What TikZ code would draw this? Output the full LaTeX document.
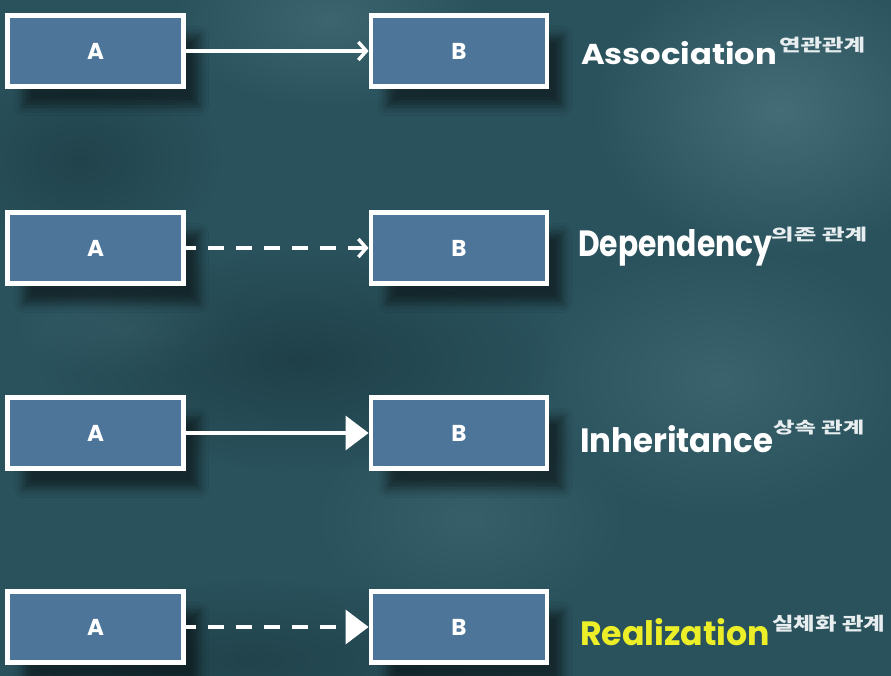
\documentclass[tikz,border=0pt]{standalone}
\usepackage{fontspec}
\usepackage{graphicx}
\setmainfont{Poppins}
\newfontfamily\kr{Noto Sans CJK KR}
\usetikzlibrary{arrows.meta,shadows.blur,fadings}
\tikzfading[name=softblob, inner color=transparent!0, outer color=transparent!100]
\definecolor{bg}{RGB}{42,82,92}
\definecolor{bglight}{RGB}{78,120,130}
\definecolor{bgdark}{RGB}{24,52,60}
\definecolor{boxblue}{RGB}{76,117,153}
\definecolor{realyellow}{RGB}{236,238,40}
\definecolor{krgray}{RGB}{232,238,240}
\begin{document}
\begin{tikzpicture}[x=1pt,y=-1pt,
  cls/.style={draw=white, line width=4.8pt, fill=boxblue, minimum width=176pt,
    minimum height=71pt, inner sep=0pt, text=white,
    font=\bfseries\fontsize{23}{23}\selectfont,
    blur shadow={shadow xshift=16pt, shadow yshift=-20pt, shadow opacity=50, shadow blur radius=9pt}},
  conn/.style={draw=white, line width=3.4pt},
  dsh/.style={dash pattern=on 16pt off 12pt, dash phase=6pt},
  openhead/.style={-{Straight Barb[length=8pt,width=18pt]}},
  trihead/.style={-{Triangle[length=23pt,width=34pt]}},
  lbl/.style={anchor=base west, inner sep=0pt, text=white, font=\bfseries},
  krlbl/.style={anchor=north west, inner sep=0pt, text=krgray, font=\kr\bfseries},
  blob/.style={path fading=softblob}]
\fill[bg] (0,0) rectangle (891,676);
\useasboundingbox (0,0) rectangle (891,676);
% texture
\fill[bglight, blob, opacity=0.7] (780,110) ellipse [x radius=190pt, y radius=150pt];
\fill[bglight, blob, opacity=0.5] (330,20) ellipse [x radius=160pt, y radius=90pt];
\fill[bglight, blob, opacity=0.45] (720,380) ellipse [x radius=200pt, y radius=140pt];
\fill[bglight, blob, opacity=0.35] (470,520) ellipse [x radius=160pt, y radius=100pt];
\fill[bglight, blob, opacity=0.3] (130,330) ellipse [x radius=120pt, y radius=50pt];
\fill[bgdark, blob, opacity=0.6] (300,360) ellipse [x radius=260pt, y radius=110pt];
\fill[bgdark, blob, opacity=0.5] (80,160) ellipse [x radius=140pt, y radius=100pt];
\fill[bgdark, blob, opacity=0.5] (250,660) ellipse [x radius=260pt, y radius=80pt];

% boxes
\node[cls] (a1) at (95.5,51) {A};
\node[cls] (b1) at (459,51) {B};
\node[cls] (a2) at (95.5,248) {A};
\node[cls] (b2) at (459,248) {B};
\node[cls] (a3) at (95.5,433) {A};
\node[cls] (b3) at (459,433) {B};
\node[cls] (a4) at (95.5,627) {A};
\node[cls] (b4) at (459,627) {B};

% connectors
\draw[conn, openhead] (a1.east) -- (b1.west);
\draw[conn, dsh, openhead] (a2.east) -- (b2.west);
\draw[conn, trihead] (a3.east) -- (b3.west);
\draw[conn, dsh, trihead] (a4.east) -- (b4.west);

% labels
\node[lbl] (t1) at (581,65) {\resizebox{196pt}{23pt}{Association}};
\node[lbl] (t2) at (578,257) {\resizebox{194pt}{27pt}{Dependency}};
\node[lbl] (t3) at (580,452) {\resizebox{193pt}{27pt}{Inheritance}};
\node[lbl, text=realyellow] (t4) at (580,645) {\resizebox{190pt}{27pt}{Realization}};

\node[krlbl] (k1) at (779,37) {\resizebox*{86pt}{16pt}{연관관계}};
\node[krlbl] (k2) at (771,227) {\resizebox*{96pt}{15pt}{의존 관계}};
\node[krlbl] (k3) at (773,420) {\resizebox*{91pt}{15pt}{상속 관계}};
\node[krlbl] (k4) at (772,615) {\resizebox*{113pt}{17pt}{실체화 관계}};
\end{tikzpicture}
\end{document}
